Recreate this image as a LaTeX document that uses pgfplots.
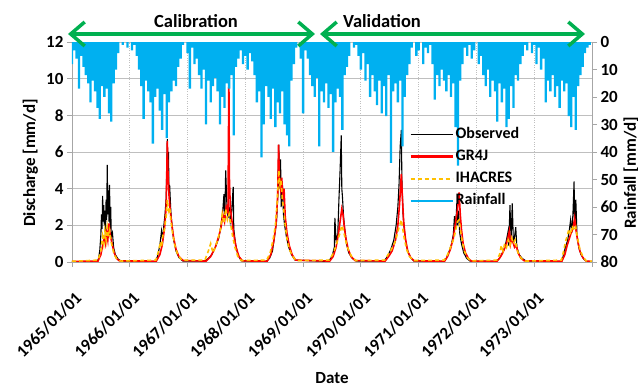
\documentclass[border=0pt]{standalone}
\usepackage{fontspec}
\setmainfont{Carlito}
\usepackage{pgfplots}
\pgfplotsset{compat=1.18}
\usetikzlibrary{arrows.meta}
\definecolor{obs}{RGB}{0,0,0}
\definecolor{gr}{RGB}{255,0,0}
\definecolor{ih}{RGB}{255,192,0}
\definecolor{rain}{RGB}{0,176,240}
\definecolor{arrowgreen}{RGB}{0,176,80}
\definecolor{axgray}{RGB}{166,166,166}
\definecolor{gridgray}{RGB}{191,191,191}
\begin{document}
\begin{tikzpicture}
\pgfplotsset{
  common/.style={scale only axis, width=520pt, height=220pt, xmin=0, xmax=9,
    at={(0pt,0pt)}, anchor=south west,
    /pgf/number format/assume math mode=true,
    tick align=outside, major tick length=5pt,
    tick style={axgray, line width=0.8pt},
    axis line style={axgray, line width=0.8pt},
    yticklabel style={font=\fontsize{17}{17}\selectfont\bfseries},
    label style={font=\fontsize{17}{20}\selectfont\bfseries}},
}
\begin{axis}[common,
  axis x line*=bottom, axis y line*=left,
  ymin=0, ymax=12, ytick={0,2,...,12},
  xtick={0,1,2,3,4,5,6,7,8,9},
  xticklabels={1965/01/01,1966/01/01,1967/01/01,1968/01/01,1969/01/01,1970/01/01,1971/01/01,1972/01/01,1973/01/01,{}},
  xticklabel style={xshift=2pt, yshift=-19pt, rotate=45, anchor=north east, font=\fontsize{17}{17}\selectfont\bfseries},
  grid=major, x grid style={gridgray, dotted, line width=0.8pt}, y grid style={gridgray, line width=0.8pt},
  ylabel={Discharge [mm/d]}, ylabel style={at={(axis description cs:-0.08,0.45)}, anchor=center},
  xlabel={Date}, xlabel style={at={(axis description cs:0.5,-0.527)}, anchor=center},
]
\addplot[obs, line width=1.1pt] coordinates {
(0,0.02) (0.44,0.02) (0.46,0.2) (0.48,0.6) (0.50,1.5) (0.51,2.6) (0.52,1.8) (0.53,3.6) (0.54,2.2) (0.55,3.1) (0.56,2.0) (0.57,2.8) (0.58,1.6) (0.59,3.4) (0.60,2.3) (0.61,5.3) (0.62,2.6) (0.63,3.9) (0.64,2.2) (0.65,4.2) (0.66,1.8) (0.67,3.0) (0.68,1.4) (0.70,1.6) (0.72,0.8) (0.75,0.4) (0.80,0.15) (0.85,0.05)
(1.44,0.02) (1.48,0.3) (1.52,0.9) (1.55,1.7) (1.57,1.2) (1.59,2.0) (1.61,2.6) (1.63,3.5) (1.65,6.7) (1.66,4.4) (1.67,6.0) (1.68,3.6) (1.69,4.2) (1.71,2.8) (1.73,2.0) (1.76,1.2) (1.80,0.6) (1.85,0.25) (1.92,0.05)
(2.30,0.05) (2.36,0.2) (2.42,0.4) (2.48,0.8) (2.54,1.3) (2.58,2.0) (2.61,2.8) (2.63,3.7) (2.645,2.4) (2.66,5.0) (2.68,3.2) (2.70,2.4) (2.72,3.0) (2.74,2.2) (2.76,2.6) (2.79,4.1) (2.80,1.8) (2.83,1.0) (2.87,0.4) (2.93,0.06)
(3.36,0.03) (3.42,0.2) (3.47,0.6) (3.51,1.5) (3.54,2.2) (3.56,3.5) (3.58,6.4) (3.59,4.0) (3.61,5.6) (3.62,3.0) (3.64,4.4) (3.66,2.6) (3.68,2.0) (3.71,1.4) (3.75,0.8) (3.80,0.4) (3.86,0.1)
(4.44,0.03) (4.50,0.3) (4.54,0.8) (4.55,2.4) (4.57,1.2) (4.60,1.5) (4.62,3.4) (4.64,5.0) (4.66,6.9) (4.67,4.0) (4.68,3.6) (4.70,2.5) (4.72,1.8) (4.75,1.0) (4.79,0.5) (4.85,0.2) (4.92,0.05)
(5.40,0.05) (5.46,0.3) (5.52,0.7) (5.57,1.2) (5.61,2.0) (5.64,3.0) (5.66,4.2) (5.68,6.3) (5.70,7.2) (5.71,4.5) (5.73,2.6) (5.75,1.8) (5.78,1.0) (5.82,0.5) (5.87,0.2) (5.92,0.05)
(6.43,0.03) (6.48,0.2) (6.53,0.6) (6.57,1.0) (6.60,1.5) (6.62,2.5) (6.64,1.8) (6.66,3.2) (6.67,2.0) (6.69,2.8) (6.71,1.6) (6.74,1.0) (6.78,0.5) (6.83,0.2) (6.89,0.05)
(7.34,0.03) (7.40,0.2) (7.45,0.5) (7.49,0.8) (7.52,1.2) (7.55,1.7) (7.56,0.9) (7.58,3.1) (7.60,1.2) (7.62,3.2) (7.64,1.0) (7.66,1.4) (7.68,1.9) (7.70,0.8) (7.74,0.4) (7.79,0.2) (7.86,0.05)
(8.46,0.03) (8.50,0.3) (8.54,0.8) (8.58,1.2) (8.61,1.8) (8.63,2.3) (8.65,1.6) (8.67,2.6) (8.69,4.4) (8.70,2.0) (8.72,3.4) (8.74,1.5) (8.77,0.8) (8.81,0.4) (8.86,0.15) (8.91,0.03) (9,0.02)
};
\addplot[gr, line width=1.6pt] coordinates {
(0,0.03) (0.45,0.05) (0.50,0.4) (0.53,0.9) (0.56,1.3) (0.58,1.0) (0.60,1.6) (0.62,1.2) (0.64,2.1) (0.66,1.5) (0.68,1.2) (0.70,0.9) (0.73,0.5) (0.77,0.2) (0.82,0.06)
(1.46,0.05) (1.52,0.4) (1.56,0.9) (1.60,1.8) (1.63,3.0) (1.65,6.6) (1.66,5.0) (1.68,3.6) (1.70,2.8) (1.73,2.0) (1.76,1.3) (1.80,0.7) (1.85,0.3) (1.92,0.08)
(2.32,0.05) (2.40,0.3) (2.48,0.8) (2.54,1.4) (2.58,1.9) (2.61,2.6) (2.64,2.2) (2.67,3.0) (2.70,2.7) (2.715,10.1) (2.725,4.5) (2.74,3.0) (2.77,2.2) (2.80,1.5) (2.84,0.8) (2.89,0.3) (2.95,0.06)
(3.38,0.05) (3.44,0.4) (3.49,1.1) (3.53,2.0) (3.56,3.6) (3.575,6.4) (3.59,4.5) (3.61,4.0) (3.63,4.6) (3.65,3.4) (3.67,4.0) (3.69,2.5) (3.72,1.6) (3.76,0.9) (3.81,0.4) (3.87,0.1)
(4.46,0.05) (4.52,0.3) (4.57,0.8) (4.61,1.5) (4.64,2.2) (4.67,2.9) (4.69,2.6) (4.71,2.0) (4.74,1.3) (4.78,0.7) (4.83,0.3) (4.90,0.08)
(5.42,0.05) (5.48,0.3) (5.54,0.6) (5.60,1.2) (5.64,2.0) (5.67,3.2) (5.70,4.8) (5.72,3.4) (5.74,2.2) (5.77,1.3) (5.81,0.6) (5.86,0.25) (5.92,0.06)
(6.45,0.05) (6.50,0.3) (6.55,0.7) (6.60,1.3) (6.64,2.2) (6.67,2.8) (6.70,3.8) (6.72,2.6) (6.74,1.8) (6.77,1.0) (6.81,0.5) (6.86,0.2) (6.91,0.05)
(7.36,0.05) (7.42,0.3) (7.47,0.6) (7.52,1.0) (7.55,1.4) (7.57,1.7) (7.59,1.0) (7.61,1.3) (7.63,1.1) (7.66,0.8) (7.69,0.9) (7.72,0.5) (7.77,0.2) (7.83,0.06)
(8.48,0.05) (8.53,0.4) (8.57,0.9) (8.61,1.3) (8.64,1.6) (8.67,1.8) (8.70,2.4) (8.72,1.8) (8.75,1.2) (8.79,0.6) (8.84,0.25) (8.90,0.05) (9,0.03)
};
\addplot[ih, line width=1.6pt, dash pattern=on 4pt off 3pt] coordinates {
(0,0.04) (0.45,0.1) (0.50,0.6) (0.53,1.4) (0.55,1.0) (0.57,1.7) (0.59,1.2) (0.61,1.9) (0.63,1.4) (0.65,1.7) (0.67,1.2) (0.70,0.8) (0.73,0.4) (0.78,0.15) (0.85,0.05)
(1.45,0.1) (1.50,0.6) (1.53,1.1) (1.55,0.8) (1.57,1.4) (1.60,1.8) (1.63,2.5) (1.65,3.4) (1.67,2.8) (1.69,3.0) (1.71,2.3) (1.74,1.6) (1.78,0.9) (1.83,0.4) (1.90,0.1)
(2.30,0.1) (2.36,0.6) (2.40,1.0) (2.44,0.5) (2.48,0.8) (2.53,1.3) (2.57,1.8) (2.60,2.6) (2.63,2.1) (2.66,2.9) (2.69,2.3) (2.72,2.6) (2.75,2.0) (2.78,1.4) (2.82,0.8) (2.87,0.3) (2.93,0.08)
(3.37,0.1) (3.43,0.5) (3.48,1.2) (3.52,2.0) (3.55,3.2) (3.58,5.0) (3.60,4.2) (3.62,4.5) (3.64,3.4) (3.66,3.0) (3.69,2.0) (3.72,1.3) (3.76,0.7) (3.82,0.3) (3.88,0.08)
(4.45,0.1) (4.51,0.4) (4.56,0.8) (4.60,1.2) (4.64,1.6) (4.67,2.0) (4.69,1.8) (4.72,1.4) (4.75,1.0) (4.79,0.6) (4.84,0.3) (4.91,0.08)
(5.41,0.1) (5.47,0.4) (5.53,0.7) (5.58,1.0) (5.62,1.4) (5.66,1.9) (5.70,2.3) (5.72,1.9) (5.75,1.3) (5.79,0.7) (5.84,0.3) (5.91,0.08)
(6.44,0.1) (6.50,0.4) (6.55,0.8) (6.60,1.2) (6.64,1.7) (6.67,2.2) (6.70,2.3) (6.72,1.8) (6.75,1.2) (6.79,0.6) (6.84,0.25) (6.90,0.06)
(7.35,0.1) (7.40,0.4) (7.43,0.9) (7.46,0.6) (7.49,1.0) (7.52,0.8) (7.55,1.2) (7.58,0.9) (7.61,1.3) (7.64,1.0) (7.67,1.2) (7.70,0.7) (7.74,0.35) (7.79,0.15) (7.85,0.05)
(8.47,0.1) (8.51,0.6) (8.54,1.1) (8.57,1.4) (8.60,1.8) (8.63,1.5) (8.66,2.0) (8.69,1.7) (8.72,1.9) (8.75,1.3) (8.79,0.7) (8.84,0.3) (8.90,0.06) (9,0.04)
};
\end{axis}
\begin{axis}[common,
  axis y line*=right, axis x line=none,
  ymin=0, ymax=80, y dir=reverse, ytick={0,10,...,80},
  ylabel={Rainfall [mm/d]}, ylabel style={at={(axis description cs:1.075,0.405)}, anchor=center},
  legend style={at={(axis description cs:0.648,0.62)}, anchor=north west, draw=none, fill=none,
    font=\fontsize{16}{16}\selectfont\bfseries, row sep=5.2pt, inner sep=0pt,
    nodes={inner sep=1.5pt, text height=11pt, text depth=3pt},
    /tikz/every even column/.append style={column sep=3pt}},
  legend cell align=left,
  legend image code/.code={\draw[#1] (0pt,0pt) -- (42pt,0pt);},
]
\addlegendimage{obs, line width=1.6pt}\addlegendentry{Observed}
\addlegendimage{gr, line width=3pt}\addlegendentry{GR4J}
\addlegendimage{ih, line width=1.8pt, dash pattern=on 4pt off 3pt}\addlegendentry{IHACRES}
\addlegendimage{rain, line width=2.2pt}\addlegendentry{Rainfall}
\addplot[ybar, bar width=0.04, fill=rain, draw=none, forget plot] coordinates {
(0.00,8) (0.04,3) (0.08,6) (0.12,17) (0.16,5) (0.20,9) (0.24,12) (0.28,15) (0.32,22) (0.36,14) (0.40,18) (0.44,24) (0.48,28) (0.52,16) (0.56,20) (0.60,17) (0.64,26) (0.68,29) (0.72,15) (0.76,10) (0.80,4)
(0.88,1) (0.96,2) (1.04,3) (1.08,1)
(1.12,5) (1.16,10) (1.20,16) (1.24,28) (1.28,14) (1.32,18) (1.36,22) (1.40,37) (1.44,20) (1.48,17) (1.52,25) (1.56,32) (1.60,19) (1.64,35) (1.68,22) (1.72,18) (1.76,14) (1.80,16) (1.84,9) (1.88,6)
(1.92,1) (2.00,4) (2.04,17) (2.08,2) (2.12,8)
(2.16,6) (2.20,12) (2.24,17) (2.28,10) (2.32,30) (2.36,14) (2.40,22) (2.44,16) (2.48,13) (2.52,18) (2.56,30) (2.60,20) (2.64,24) (2.68,15) (2.72,17) (2.76,12) (2.80,34) (2.84,9) (2.88,6)
(2.92,3) (2.96,8) (3.00,5) (3.04,10) (3.08,4) (3.12,7)
(3.16,12) (3.20,22) (3.24,18) (3.28,42) (3.32,30) (3.36,16) (3.40,20) (3.44,28) (3.48,17) (3.52,31) (3.56,22) (3.60,26) (3.64,18) (3.68,30) (3.72,34) (3.76,38) (3.80,14) (3.84,8)
(3.88,2) (3.96,6) (4.00,26) (4.04,3)
(4.08,6) (4.12,12) (4.16,16) (4.20,20) (4.24,13) (4.28,38) (4.32,18) (4.36,22) (4.40,15) (4.44,24) (4.48,19) (4.52,40) (4.56,22) (4.60,17) (4.64,20) (4.68,32) (4.72,12) (4.76,9) (4.80,5)
(4.88,2) (4.92,1) (4.96,5)
(5.00,10) (5.04,4) (5.08,14) (5.12,8) (5.16,20) (5.20,12) (5.24,18) (5.28,23) (5.32,14) (5.36,26) (5.40,16) (5.44,27) (5.48,12) (5.52,44) (5.56,18) (5.60,15) (5.64,22) (5.68,14) (5.72,38) (5.76,20) (5.80,12) (5.84,8)
(5.88,2) (5.96,5) (6.00,3) (6.08,8) (6.12,2) (6.16,4) (6.20,1)
(6.24,8) (6.28,21) (6.32,12) (6.36,16) (6.40,10) (6.44,14) (6.48,18) (6.52,12) (6.56,20) (6.60,15) (6.64,31) (6.68,45) (6.72,14) (6.76,8)
(6.80,2) (6.84,5) (6.88,1) (6.92,6) (6.96,3)
(7.04,8) (7.08,5) (7.12,12) (7.16,16) (7.20,10) (7.24,20) (7.28,14) (7.32,18) (7.36,29) (7.40,15) (7.44,22) (7.48,17) (7.52,31) (7.56,28) (7.60,16) (7.64,24) (7.68,12) (7.72,14) (7.76,8) (7.80,5)
(7.84,1) (7.88,3) (7.96,4) (8.00,1) (8.04,8) (8.08,2)
(8.12,10) (8.16,6) (8.20,22) (8.24,14) (8.28,18) (8.32,12) (8.36,20) (8.40,16) (8.44,24) (8.48,14) (8.52,18) (8.56,15) (8.60,27) (8.64,31) (8.68,20) (8.72,32) (8.76,16) (8.80,12) (8.84,9) (8.88,4) (8.92,2) (8.96,1)
};
\end{axis}
\node[font=\fontsize{18.5}{18.5}\selectfont\bfseries] at (124pt,241pt) {Calibration};
\node[font=\fontsize{18.5}{18.5}\selectfont\bfseries] at (310pt,241pt) {Validation};
\draw[arrowgreen, line width=3.5pt, {Straight Barb[length=14pt,width=24pt]}-{Straight Barb[length=14pt,width=24pt]}] (-4pt,228pt) -- (243pt,228pt);
\draw[arrowgreen, line width=3.5pt, {Straight Barb[length=14pt,width=24pt]}-{Straight Barb[length=14pt,width=24pt]}] (248pt,228pt) -- (513pt,228pt);
\pgfresetboundingbox
\path[use as bounding box] (-72pt,-125pt) rectangle (566pt,262pt);
\end{tikzpicture}
\end{document}
